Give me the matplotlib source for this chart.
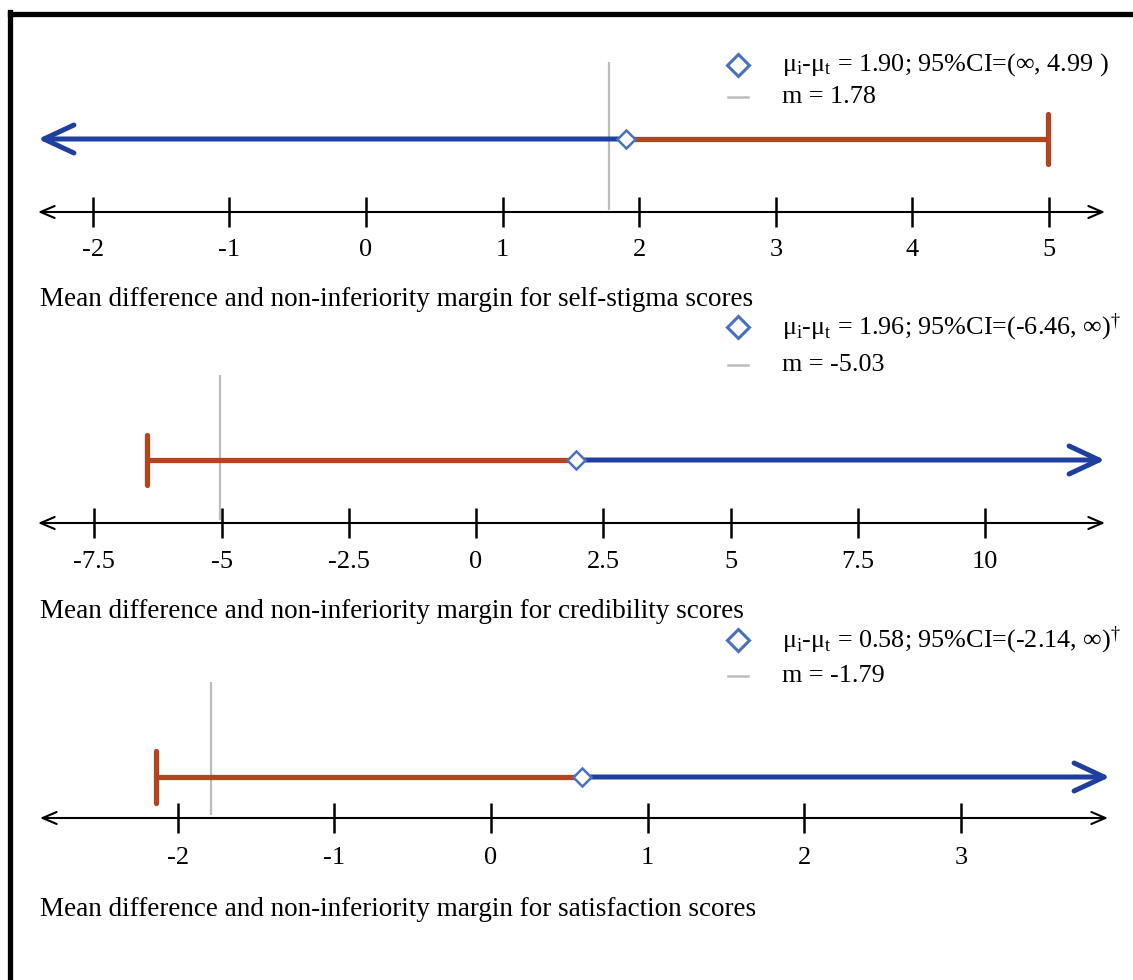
import matplotlib
matplotlib.use("Agg")
import matplotlib.pyplot as plt
import matplotlib.transforms as mtransforms
from matplotlib.lines import Line2D

plt.rcParams['font.family'] = ['Liberation Serif', 'DejaVu Serif']
plt.rcParams['mathtext.fontset'] = 'custom'
plt.rcParams['mathtext.rm'] = 'Liberation Serif'
plt.rcParams['mathtext.it'] = 'Liberation Serif:italic'

# ---------------- data ----------------
captions = [
    "Mean difference and non-inferiority margin for self-stigma scores",
    "Mean difference and non-inferiority margin for credibility scores",
    "Mean difference and non-inferiority margin for satisfaction scores",
]
mean_diff = [1.90, 1.96, 0.58]
ci_bound = [4.99, -6.46, -2.14]          # finite CI bound
open_side = ["left", "right", "right"]   # side of the infinite CI bound
margins = [1.78, -5.03, -1.79]
tick_values = [
    [-2, -1, 0, 1, 2, 3, 4, 5],
    [-7.5, -5, -2.5, 0, 2.5, 5, 7.5, 10],
    [-2, -1, 0, 1, 2, 3],
]
tick_labels = [
    ["-2", "-1", "0", "1", "2", "3", "4", "5"],
    ["-7.5", "-5", "-2.5", "0", "2.5", "5", "7.5", "10"],
    ["-2", "-1", "0", "1", "2", "3"],
]
legend_labels = [
    r"μ$_{\mathrm{i}}$-μ$_{\mathrm{t}}$ = 1.90; 95%CI=(∞, 4.99 )",
    r"μ$_{\mathrm{i}}$-μ$_{\mathrm{t}}$ = 1.96; 95%CI=(-6.46, ∞)$^{\dagger}$",
    r"μ$_{\mathrm{i}}$-μ$_{\mathrm{t}}$ = 0.58; 95%CI=(-2.14, ∞)$^{\dagger}$",
]
margin_labels = ["m = 1.78", "m = -5.03", "m = -1.79"]

# ---------------- layout (pixels) ----------------
W, H = 1133, 980
layout = [
    dict(band=(20, 320), zero=366, unit=136.6, axis_y=212, ci_y=139, cap=25,
         mline=(62, 210), leg=(65, 97), tick_y=250, cap_y=300,
         axis_x=(38, 1105), ci_end=38),
    dict(band=(320, 630), zero=476, unit=50.9, axis_y=523, ci_y=460, cap=25,
         mline=(375, 520), leg=(327, 365), tick_y=562, cap_y=611,
         axis_x=(38, 1105), ci_end=1105),
    dict(band=(630, 980), zero=491, unit=156.7, axis_y=818, ci_y=777, cap=26,
         mline=(682, 815), leg=(640, 676), tick_y=858, cap_y=909,
         axis_x=(40, 1108), ci_end=1110),
]

BLUE = "#1f3f9e"
ORANGE = "#b2451d"
GRAY = "#bdbdbd"
DIAMOND = "#4a70c0"
FS_TEXT = 19.5
FS_LEG = 18.8
FS_TICK = 19
PT = 72.0 / 100.0  # points per pixel

fig = plt.figure(figsize=(W / 100, H / 100), dpi=100)

for i, L in enumerate(layout):
    top, bot = L["band"]
    ax = fig.add_axes([0, 1 - bot / H, 1, (bot - top) / H])
    x0 = (0 - L["zero"]) / L["unit"]
    x1 = (W - L["zero"]) / L["unit"]
    ax.set_xlim(x0, x1)
    ax.set_ylim(bot, top)
    ax.axis("off")
    blend = mtransforms.blended_transform_factory(ax.transAxes, ax.transData)

    # number line with arrows at both ends
    ax.annotate("", xy=(L["axis_x"][1] / W, L["axis_y"]), xycoords=blend,
                xytext=(L["axis_x"][0] / W, L["axis_y"]), textcoords=blend,
                arrowprops=dict(arrowstyle="<->,head_length=%f,head_width=%f" % (14 * PT, 6 * PT),
                                lw=1.5, color="black", shrinkA=0, shrinkB=0,
                                mutation_scale=1))
    # ticks
    ty = L["axis_y"]
    ax.vlines(tick_values[i], ty - 15, ty + 15, color="black", lw=1.8)
    for v, lab in zip(tick_values[i], tick_labels[i]):
        ax.text(v, L["tick_y"], lab, ha="center", va="center", fontsize=FS_TICK)

    # margin line
    ax.vlines(margins[i], L["mline"][0], L["mline"][1], color=GRAY, lw=1.6, zorder=1)

    # CI: finite part (orange) with cap
    cy = L["ci_y"]
    ax.plot([mean_diff[i], ci_bound[i]], [cy, cy], color=ORANGE, lw=3.8,
            solid_capstyle="butt", zorder=3)
    ax.plot([ci_bound[i], ci_bound[i]], [cy - L["cap"], cy + L["cap"]],
            color=ORANGE, lw=3.8, solid_capstyle="round", zorder=3)
    # infinite part (blue arrow)
    ax.annotate("", xy=(L["ci_end"] / W, cy), xycoords=blend,
                xytext=(mean_diff[i], cy), textcoords="data",
                arrowprops=dict(arrowstyle="->,head_length=%f,head_width=%f" % (30 * PT, 14 * PT),
                                lw=3.6, color=BLUE, shrinkA=0, shrinkB=0,
                                mutation_scale=1, capstyle="round", joinstyle="round"),
                zorder=3)
    ax.plot(mean_diff[i], cy, marker="D", ms=9.5, mfc="white", mec=DIAMOND,
            mew=1.8, zorder=5)

    # legend
    ly1, ly2 = L["leg"]
    ax.plot([738 / W], [ly1], transform=blend, marker="D", ms=11, mfc="white",
            mec=DIAMOND, mew=2.2, clip_on=False)
    ax.plot([728 / W, 748 / W], [ly2, ly2], transform=blend, color=GRAY, lw=1.8)
    ax.text(782 / W, ly1, legend_labels[i], transform=blend, ha="left", va="center",
            fontsize=FS_LEG)
    ax.text(782 / W, ly2, margin_labels[i], transform=blend, ha="left", va="center",
            fontsize=FS_LEG)

    # caption
    ax.text(40 / W, L["cap_y"], captions[i], transform=blend, ha="left", va="center",
            fontsize=FS_TEXT)

# frame (left and top edges visible)
fig.add_artist(Line2D([10.5 / W, 10.5 / W], [0, 1 - 12 / H], color="black", lw=3.8,
                      transform=fig.transFigure, solid_capstyle="projecting"))
fig.add_artist(Line2D([10.5 / W, 1], [1 - 14.5 / H, 1 - 14.5 / H], color="black", lw=3.8,
                      transform=fig.transFigure, solid_capstyle="projecting"))

fig.savefig("out.png", dpi=100)
